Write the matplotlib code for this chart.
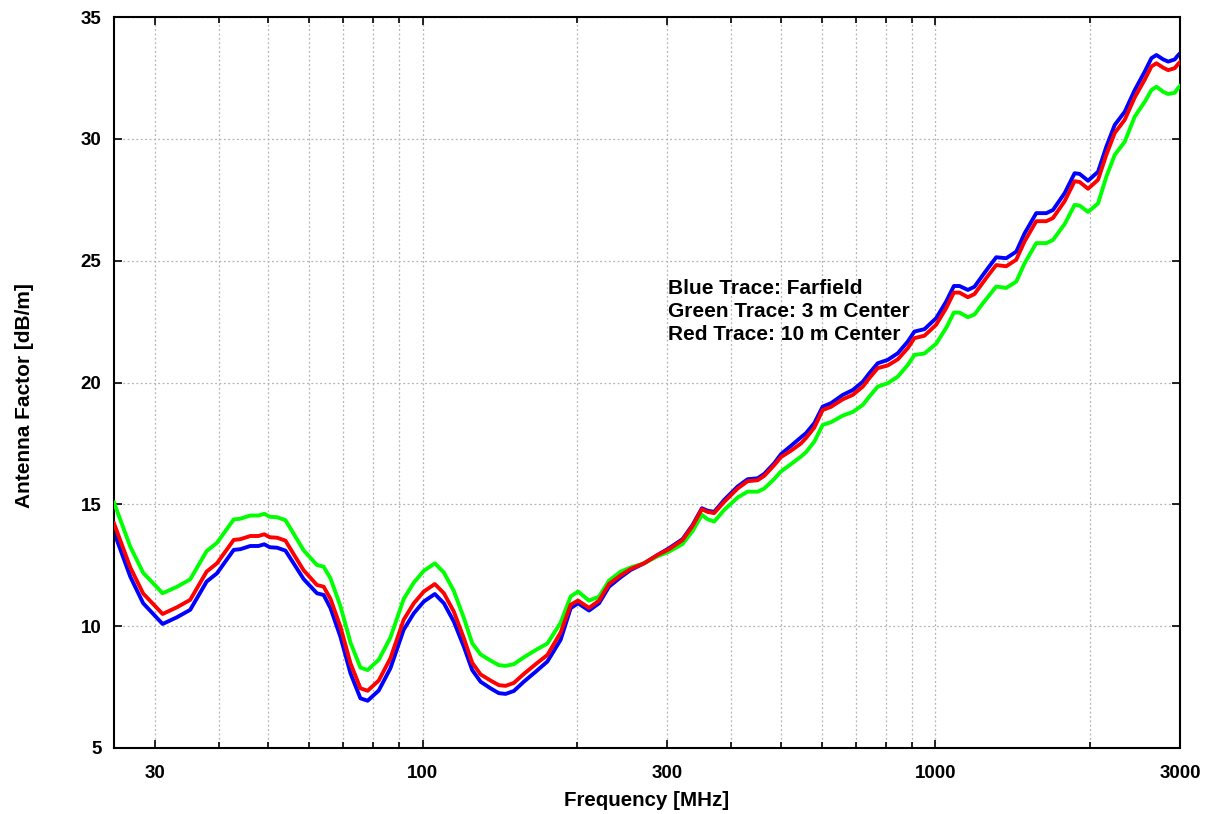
import matplotlib
matplotlib.use("Agg")
import matplotlib.pyplot as plt
from matplotlib.ticker import FixedLocator, NullFormatter, FixedFormatter

freq_mhz = [25.0, 26.9, 28.5, 31.1, 33.2, 35.2, 37.9, 39.7, 42.8, 44.1, 46.1, 47.8, 49.1, 50.3, 52.0,
            54.0, 56.0, 58.6, 62.2, 64.1, 66.1, 69.1, 72.3, 75.6, 78.1, 82.1, 86.5, 91.8, 96.1, 100.5,
            105.6, 110.0, 115.0, 120.3, 124.9, 129.7, 135.6, 140.8, 145.1, 150.6, 157.5, 166.1, 175.1, 185.8,
            194.4, 200.9, 211.1, 220.8, 230.9, 243.4, 254.6, 270.3, 287.1, 302.4, 321.2, 336.0, 350.4, 359.4,
            370.3, 387.3, 411.4, 430.3, 450.2, 463.7, 485.0, 499.9, 522.8, 546.8, 559.3, 580.5, 602.8, 625.7,
            659.6, 689.9, 721.7, 743.3, 771.9, 807.5, 844.6, 883.4, 910.1, 952.1, 1003.5, 1049.5, 1086.6,
            1114.3, 1157.1, 1192.0, 1237.8, 1266.1, 1314.2, 1374.6, 1437.9, 1492.7, 1573.2, 1645.8, 1695.8,
            1786.8, 1868.9, 1911.5, 1985.1, 2076.3, 2155.2, 2237.6, 2340.4, 2447.9, 2560.8, 2638.6, 2698.8,
            2781.4, 2844.9, 2930.0, 2966.0, 3000.0]

blue_farfield = [13.86, 12.03, 10.94, 10.09, 10.37, 10.67, 11.83, 12.17, 13.13, 13.16, 13.29, 13.29, 13.36, 13.24, 13.22,
                 13.10, 12.58, 11.93, 11.35, 11.28, 10.74, 9.57, 8.07, 7.04, 6.94, 7.36, 8.27, 9.85, 10.53, 11.01,
                 11.32, 10.94, 10.19, 9.16, 8.20, 7.72, 7.45, 7.25, 7.22, 7.34, 7.72, 8.13, 8.55, 9.44,
                 10.74, 10.94, 10.64, 10.94, 11.62, 12.01, 12.31, 12.58, 12.92, 13.20, 13.57, 14.15, 14.84, 14.74,
                 14.69, 15.18, 15.73, 16.03, 16.07, 16.25, 16.69, 17.06, 17.40, 17.75, 17.92, 18.33, 19.01, 19.15,
                 19.49, 19.69, 20.03, 20.38, 20.79, 20.93, 21.20, 21.68, 22.09, 22.19, 22.64, 23.32, 23.96,
                 23.96, 23.80, 23.93, 24.41, 24.69, 25.14, 25.10, 25.37, 26.12, 26.95, 26.95, 27.08,
                 27.77, 28.59, 28.56, 28.28, 28.65, 29.68, 30.57, 31.11, 32.00, 32.76, 33.31, 33.44,
                 33.26, 33.17, 33.26, 33.40, 33.51]

red_10m = [14.22, 12.41, 11.34, 10.50, 10.78, 11.08, 12.24, 12.58, 13.54, 13.57, 13.70, 13.70, 13.77, 13.65, 13.63,
           13.51, 12.96, 12.29, 11.69, 11.62, 11.12, 9.98, 8.48, 7.45, 7.35, 7.77, 8.68, 10.26, 10.94, 11.42,
           11.73, 11.35, 10.60, 9.51, 8.50, 8.02, 7.77, 7.58, 7.55, 7.67, 8.04, 8.44, 8.82, 9.74,
           10.88, 11.05, 10.75, 11.05, 11.73, 12.09, 12.35, 12.58, 12.92, 13.16, 13.53, 14.11, 14.80, 14.69,
           14.64, 15.10, 15.65, 15.95, 15.99, 16.17, 16.61, 16.94, 17.20, 17.50, 17.72, 18.15, 18.87, 19.00,
           19.31, 19.49, 19.83, 20.18, 20.59, 20.70, 20.95, 21.41, 21.82, 21.92, 22.37, 23.05, 23.69,
           23.69, 23.50, 23.63, 24.10, 24.38, 24.82, 24.77, 25.04, 25.79, 26.62, 26.62, 26.75,
           27.44, 28.26, 28.23, 27.95, 28.32, 29.35, 30.24, 30.78, 31.70, 32.43, 32.97, 33.10,
           32.92, 32.82, 32.90, 33.04, 33.15]

green_3m = [15.07, 13.26, 12.19, 11.35, 11.62, 11.92, 13.08, 13.42, 14.38, 14.41, 14.54, 14.54, 14.61, 14.49, 14.47,
            14.35, 13.80, 13.11, 12.51, 12.44, 11.96, 10.83, 9.33, 8.30, 8.20, 8.62, 9.53, 11.11, 11.79, 12.27,
            12.58, 12.20, 11.45, 10.34, 9.30, 8.84, 8.59, 8.40, 8.37, 8.44, 8.72, 9.02, 9.29, 10.14,
            11.22, 11.42, 11.05, 11.21, 11.87, 12.24, 12.41, 12.58, 12.87, 13.06, 13.37, 13.90, 14.57, 14.39,
            14.29, 14.77, 15.28, 15.52, 15.52, 15.65, 16.04, 16.35, 16.65, 16.96, 17.14, 17.57, 18.26, 18.37,
            18.64, 18.79, 19.08, 19.42, 19.83, 19.97, 20.24, 20.72, 21.13, 21.19, 21.59, 22.24, 22.87,
            22.87, 22.68, 22.79, 23.25, 23.51, 23.94, 23.88, 24.14, 24.89, 25.72, 25.72, 25.85,
            26.50, 27.29, 27.26, 27.00, 27.35, 28.45, 29.34, 29.88, 30.91, 31.52, 32.00, 32.14,
            31.93, 31.84, 31.89, 32.05, 32.17]

x_major_ticks = [30, 100, 300, 1000, 3000]
x_major_labels = ["30", "100", "300", "1000", "3000"]
x_minor_ticks = [40, 50, 60, 70, 80, 90, 200, 400, 500, 600, 700, 800, 900, 2000]
y_ticks = [5, 10, 15, 20, 25, 30, 35]

annotation_lines = ["Blue Trace: Farfield", "Green Trace: 3 m Center", "Red Trace: 10 m Center"]

plt.rcParams['font.family'] = ['Liberation Sans', 'DejaVu Sans']
plt.rcParams['font.weight'] = 'bold'

fig = plt.figure(figsize=(12.13, 8.14), dpi=100)
ax = fig.add_axes([114/1213, 1 - 748/814, (1180-114)/1213, (748-17)/814])

lw = 2.8
ax.plot(freq_mhz, green_3m, color='#00ff00', lw=lw, zorder=3)
ax.plot(freq_mhz, red_10m, color='#ff0000', lw=lw, zorder=4)
ax.plot(freq_mhz, blue_farfield, color='#0000ff', lw=lw, zorder=2)

ax.set_xscale('log')
ax.set_xlim(25, 3000)
ax.set_ylim(5, 35)

ax.xaxis.set_major_locator(FixedLocator(x_major_ticks))
ax.xaxis.set_major_formatter(FixedFormatter(x_major_labels))
ax.xaxis.set_minor_locator(FixedLocator(x_minor_ticks))
ax.xaxis.set_minor_formatter(NullFormatter())
ax.yaxis.set_major_locator(FixedLocator(y_ticks))

ax.grid(True, which='both', axis='x', color='#b4b4b4', linestyle=(0, (1.5, 2)), linewidth=0.9)
ax.grid(True, which='major', axis='y', color='#b4b4b4', linestyle=(0, (1.5, 2)), linewidth=0.9)
ax.set_axisbelow(True)

ax.tick_params(which='both', direction='in', top=True, right=True, width=1.2, colors='black')
ax.tick_params(which='major', length=6, labelsize=13.5)
ax.tick_params(which='minor', length=4)
ax.tick_params(axis='x', which='major', pad=12)
ax.tick_params(axis='y', which='major', pad=9)
for lab in ax.get_xticklabels() + ax.get_yticklabels():
    lab.set_fontweight('bold')

for s in ax.spines.values():
    s.set_linewidth(1.5)

ax.set_xlabel("Frequency [MHz]", fontsize=14.8, fontweight='bold', labelpad=7)
ax.set_ylabel("Antenna Factor [dB/m]", fontsize=15, fontweight='bold')
ax.yaxis.set_label_coords(-0.075, 0.4815)

for i, t in enumerate(annotation_lines):
    ax.text(668/1213, 1 - (279 + i*23)/814, t, transform=fig.transFigure, fontsize=15,
            fontweight='bold', ha='left', va='top')

fig.savefig("out.png", dpi=100)
